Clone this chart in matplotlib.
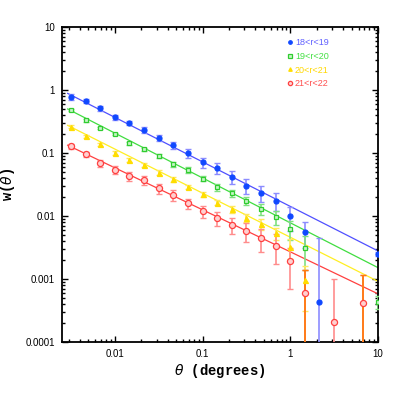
import numpy as np
import matplotlib
matplotlib.use('Agg')
import matplotlib.pyplot as plt
from matplotlib.ticker import LogLocator, NullFormatter, FixedLocator, FixedFormatter

nan = np.nan

# angular bins (degrees)
theta = [0.00316, 0.00464, 0.00681, 0.0100, 0.0147, 0.0215, 0.0316, 0.0464,
         0.0681, 0.100, 0.147, 0.215, 0.316, 0.464, 0.681, 1.00, 1.47, 2.15,
         3.16, 4.64, 6.81, 10.0]

labels = ['18<r<19', '19<r<20', '20<r<21', '21<r<22']

w_blue = [0.77, 0.68, 0.51, 0.37, 0.30, 0.23, 0.175, 0.134, 0.099, 0.071, 0.058,
          0.042, 0.030, 0.023, 0.0175, 0.0099, 0.0056, 0.00043, nan, nan, nan, 0.0025]
e_blue = [0.08, 0.05, 0.04, 0.03, 0.025, 0.025, 0.02, 0.018, 0.015, 0.013, 0.011,
          0.010, 0.008, 0.0065, 0.0055, 0.0042, 0.0025, 0.0041, nan, nan, nan, 0.0002]

w_green = [0.48, 0.33, 0.25, 0.20, 0.143, 0.114, 0.091, 0.066, 0.054, 0.039, 0.0285,
           0.023, 0.0175, 0.0128, 0.0095, 0.0062, 0.0031, nan, nan, nan, nan, 0.00043]
e_green = [0.02, 0.015, 0.012, 0.01, 0.009, 0.008, 0.007, 0.006, 0.005, 0.0035, 0.0034,
           0.003, 0.0028, 0.0026, 0.0024, 0.002, 0.0017, nan, nan, nan, nan, 0.0001]

w_yellow = [0.26, 0.186, 0.137, 0.10, 0.077, 0.065, 0.049, 0.038, 0.029, 0.022, 0.0163,
            0.0128, 0.0094, 0.0074, 0.0053, 0.0032, 0.00096, nan, nan, nan, nan, nan]
e_yellow = [0.015, 0.01, 0.008, 0.006, 0.005, 0.004, 0.004, 0.003, 0.0025, 0.0017, 0.0016,
            0.0015, 0.0014, 0.0014, 0.0011, 0.0011, 0.00065, nan, nan, nan, nan, nan]

w_red = [0.129, 0.095, 0.069, 0.054, 0.043, 0.037, 0.0275, 0.0216, 0.0158, 0.0118, 0.0093,
         0.0072, 0.0058, 0.0045, 0.0034, 0.0019, 0.00059, nan, 0.00021, nan, 0.00041, nan]
e_red = [0.012, 0.01, 0.009, 0.008, 0.007, 0.006, 0.005, 0.004, 0.003, 0.0026, 0.0023,
         0.0021, 0.002, 0.0018, 0.0017, 0.0012, 0.0008, nan, 0.0008, nan, 0.00075, nan]

# power-law fits: w = A * theta^(-slope), A at 1 degree
fit_A = [0.0142, 0.0078, 0.0046, 0.0027]
fit_slope = [0.707, 0.712, 0.70, 0.667]
fit_range = [0.0029, 10.0]

series = [(w_blue, e_blue), (w_green, e_green), (w_yellow, e_yellow), (w_red, e_red)]
line_cols = ['#5050ff', '#40dd40', '#ffee22', '#ff4040']
bar_cols = ['#8c8cff', '#80e080', '#ffe860', '#ff8c8c']
mk_cols = ['#1048ff', '#30cc30', '#ffdd00', '#ff4040']
mk_face = ['#1048ff', '#c8f5c8', '#ffdd00', '#ffd0d0']
markers = ['o', 's', '^', 'o']
msizes = [3.6, 3.3, 3.6, 4.4]
txt_cols = ['#6060ff', '#44e044', '#ffd800', '#ff5050']

fig = plt.figure(figsize=(3.99, 4.0), dpi=100)
ax = fig.add_axes([62/399, 1-342/400, (378-62)/399, (342-27)/400])

th = np.array(theta)
tfit = np.logspace(np.log10(fit_range[0]), np.log10(fit_range[1]), 50)
for i, (w, e) in enumerate(series):
    w = np.array(w); e = np.array(e)
    ax.plot(tfit, fit_A[i]*tfit**(-fit_slope[i]), color=line_cols[i], lw=0.9, zorder=2)
    ax.errorbar(th, w, yerr=e, fmt='none', ecolor=bar_cols[i], elinewidth=1.2,
                capsize=2.2, capthick=1.0, zorder=3)
    ax.plot(th, w, ls='none', marker=markers[i], ms=msizes[i], mec=mk_cols[i],
            mfc=mk_face[i], mew=0.9, zorder=4, label=labels[i])

# the red bars that run off the bottom
orange_idx = [16, 20]
ax.errorbar(th[orange_idx], np.array(w_red)[orange_idx], yerr=np.array(e_red)[orange_idx],
            fmt='none', ecolor='#ff7a10', elinewidth=1.3, capsize=2.2, capthick=1.0, zorder=3.5)

ax.set_xscale('log')
ax.set_yscale('log')
ax.set_xlim(0.0025, 10)
ax.set_ylim(0.0001, 10)

ax.xaxis.set_major_locator(FixedLocator([0.01, 0.1, 1, 10]))
ax.xaxis.set_major_formatter(FixedFormatter(['0.01', '0.1', '1', '10']))
ax.yaxis.set_major_locator(FixedLocator([1e-4, 1e-3, 1e-2, 0.1, 1, 10]))
ax.yaxis.set_major_formatter(FixedFormatter(['0.0001', '0.001', '0.01', '0.1', '1', '10']))
ax.xaxis.set_minor_locator(LogLocator(base=10, subs=np.arange(2, 10), numticks=20))
ax.yaxis.set_minor_locator(LogLocator(base=10, subs=np.arange(2, 10), numticks=20))
ax.xaxis.set_minor_formatter(NullFormatter())
ax.yaxis.set_minor_formatter(NullFormatter())
ax.tick_params(which='both', direction='in', top=True, right=True, width=1.0,
               labelsize=7, pad=5)
ax.tick_params(which='major', length=4.5)
ax.tick_params(which='minor', length=2.5)
for lab in ax.get_xticklabels() + ax.get_yticklabels():
    lab.set_family('Liberation Sans')
for s in ax.spines.values():
    s.set_linewidth(1.3)

ax.set_xlabel(r'$\theta$ (degrees)', family='Liberation Mono', fontweight='bold',
              fontsize=10, labelpad=2)
ax.set_ylabel(r'w($\theta$)', family='Liberation Mono', fontweight='bold',
              fontsize=10, labelpad=6)

leg = ax.legend(loc='upper left', bbox_to_anchor=(0.70, 0.975), frameon=False,
                handlelength=0.6, handletextpad=0.3, labelspacing=0.5,
                markerscale=0.7, borderaxespad=0, prop={'family': 'Liberation Sans', 'size': 6.5})
for t, c in zip(leg.get_texts(), txt_cols):
    t.set_color(c)

fig.savefig('out.png', dpi=100)
